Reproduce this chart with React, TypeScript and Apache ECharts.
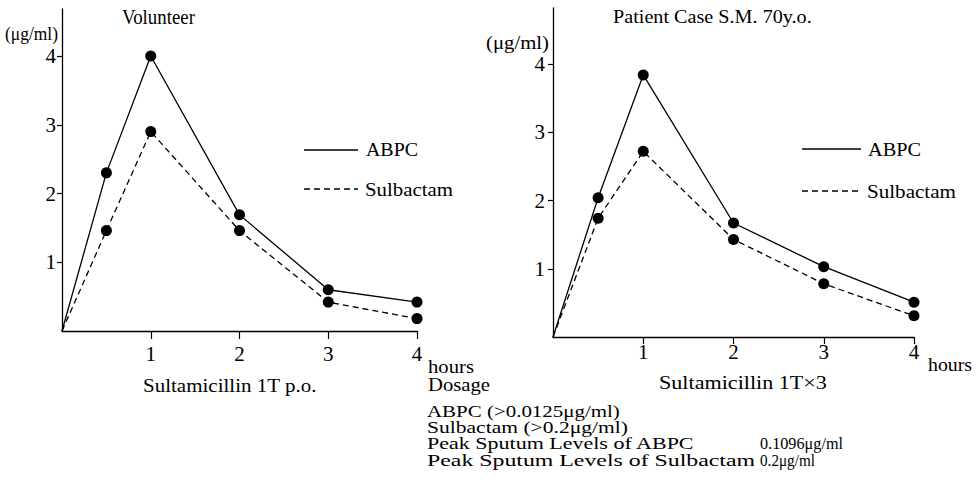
import React, { useEffect, useRef } from "react";
import * as echarts from "echarts";

const hours = [0, 0.5, 1, 2, 3, 4];
const volunteerABPC = [0, 2.3, 4.0, 1.69, 0.6, 0.42];
const volunteerSulbactam = [0, 1.46, 2.9, 1.46, 0.42, 0.18];
const patientABPC = [0, 2.04, 3.84, 1.67, 1.03, 0.51];
const patientSulbactam = [0, 1.74, 2.72, 1.43, 0.78, 0.31];
const yTickValues = [1, 2, 3, 4];
const xTickValues = [1, 2, 3, 4];
const seriesNames = ["ABPC", "Sulbactam"];
const chartTitles = ["Volunteer", "Patient Case S.M. 70y.o."];
const unitLabel = "(μg/ml)";
const xAxisNames = ["Sultamicillin 1T p.o.", "Sultamicillin 1T×3"];
const notes = [
  "ABPC (>0.0125μg/ml)",
  "Sulbactam (>0.2μg/ml)",
  "Peak Sputum Levels of ABPC",
  "Peak Sputum Levels of Sulbactam",
];
const noteValues = ["0.1096μg/ml", "0.2μg/ml"];

const FAMILY = "Liberation Serif";
const INK = "#000";
const DASH = [6, 4];

let measureCtx: CanvasRenderingContext2D | null = null;
function measure(text: string, size: number): number {
  if (!measureCtx) measureCtx = document.createElement("canvas").getContext("2d");
  if (!measureCtx) return text.length * size * 0.5;
  measureCtx.font = `${size}px "${FAMILY}"`;
  return measureCtx.measureText(text).width;
}

function txt(text: string, x: number, y: number, width: number, size = 17) {
  const w = measure(text, size);
  return {
    type: "text",
    x,
    y,
    scaleX: w > 0 ? width / w : 1,
    silent: true,
    style: {
      text,
      fill: INK,
      fontSize: size,
      fontFamily: FAMILY,
      align: "left",
      verticalAlign: "middle",
    },
  };
}

function seg(x1: number, x2: number, y: number, dashed: boolean) {
  return {
    type: "line",
    silent: true,
    shape: { x1, y1: y, x2, y2: y },
    style: { stroke: INK, lineWidth: 1.3, lineDash: dashed ? DASH : null },
  };
}

function toData(values: number[]) {
  return values.map((v, i) =>
    i === 0 ? { value: [hours[i], v], symbol: "none" } : { value: [hours[i], v] }
  );
}

export default function App() {
  const ref = useRef<HTMLDivElement>(null);
  useEffect(() => {
    if (!ref.current) return;
    const chart = echarts.init(ref.current, undefined, { renderer: "svg" });

    const axisLineStyle = { lineStyle: { color: INK, width: 1.3 } };
    const labelStyle = { color: INK, fontFamily: FAMILY, fontSize: 21 };

    const xAxisCommon = (gridIndex: number, margin: number, tickLen: number) => ({
      type: "value",
      gridIndex,
      min: 0,
      max: 4,
      axisLine: { show: true, onZero: false, ...axisLineStyle },
      axisTick: { show: true, length: tickLen, customValues: xTickValues, lineStyle: { color: INK, width: 1.2 } },
      axisLabel: { ...labelStyle, margin, customValues: xTickValues },
      splitLine: { show: false },
    });
    const yAxisCommon = (gridIndex: number, max: number, margin: number) => ({
      type: "value",
      gridIndex,
      min: 0,
      max,
      axisLine: { show: true, onZero: false, ...axisLineStyle },
      axisTick: { show: true, length: 5, customValues: yTickValues, lineStyle: { color: INK, width: 1.2 } },
      axisLabel: { ...labelStyle, margin, customValues: yTickValues },
      splitLine: { show: false },
    });

    const lineSeries = (name: string, values: number[], idx: number, dashed: boolean) => ({
      type: "line",
      name,
      xAxisIndex: idx,
      yAxisIndex: idx,
      data: toData(values),
      symbol: "circle",
      symbolSize: 11,
      showSymbol: true,
      itemStyle: { color: "#000" },
      lineStyle: { color: INK, width: 1.3, type: dashed ? DASH : "solid" },
      silent: true,
    });

    chart.setOption({
      animation: false,
      backgroundColor: "#fff",
      textStyle: { fontFamily: FAMILY },
      grid: [
        { left: 62, top: 9, width: 355, height: 322 },
        { left: 553, top: 8, width: 361, height: 329 },
      ],
      xAxis: [xAxisCommon(0, 12, 8), xAxisCommon(1, 4, 7)],
      yAxis: [yAxisCommon(0, 322 / 68.75, 6), yAxisCommon(1, 329 / 68.25, 8)],
      series: [
        lineSeries(seriesNames[0], volunteerABPC, 0, false),
        lineSeries(seriesNames[1], volunteerSulbactam, 0, true),
        lineSeries(seriesNames[0], patientABPC, 1, false),
        lineSeries(seriesNames[1], patientSulbactam, 1, true),
      ],
      graphic: [
        txt(unitLabel, 5, 34, 53, 19),
        txt(chartTitles[0], 122, 17, 73, 20),
        txt(chartTitles[1], 613, 17, 199, 18),
        txt(unitLabel, 486, 42, 63, 19),
        seg(304, 358, 150, false),
        seg(304, 358, 189, true),
        txt(seriesNames[0], 366, 150, 52, 19),
        txt(seriesNames[1], 365, 189, 88, 19),
        seg(802, 861, 149, false),
        seg(802, 861, 191, true),
        txt(seriesNames[0], 868, 149, 53, 19),
        txt(seriesNames[1], 867, 191, 89, 19),
        txt("hours", 428, 366, 46, 19),
        txt("Dosage", 428, 384, 62, 19),
        txt(xAxisNames[0], 143, 385, 174, 19),
        txt("hours", 928, 365, 44, 19),
        txt(xAxisNames[1], 659, 383, 168, 19),
        txt(notes[0], 427, 411, 193, 17),
        txt(notes[1], 427, 427, 201, 17),
        txt(notes[2], 427, 443, 268, 17),
        txt(notes[3], 427, 460, 328, 17),
        txt(noteValues[0], 760, 443, 83, 17),
        txt(noteValues[1], 760, 460, 55, 17),
      ],
    });
    return () => chart.dispose();
  }, []);
  return (
    <div
      ref={ref}
      style={{ position: "fixed", left: 0, top: 0, width: 977, height: 489, background: "#fff" }}
    />
  );
}
